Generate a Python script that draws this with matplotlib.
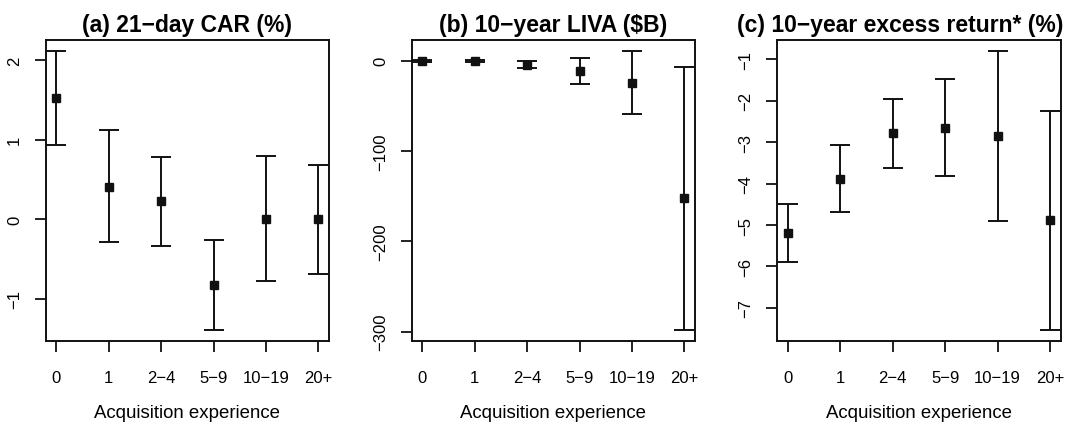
import matplotlib
matplotlib.use("Agg")
import matplotlib.pyplot as plt
import numpy as np

plt.rcParams['font.family'] = ['Liberation Sans', 'DejaVu Sans']

categories = ["0", "1", "2\u22124", "5\u22129", "10\u221219", "20+"]

# (a) 21-day CAR (%)
car_mid = [1.52, 0.41, 0.23, -0.82, 0.0, 0.0]
car_lo = [0.93, -0.29, -0.33, -1.385, -0.78, -0.686]
car_hi = [2.117, 1.117, 0.78, -0.255, 0.79, 0.686]

# (b) 10-year LIVA ($B)
liva_mid = [0.0, 0.0, -4.4, -11.0, -24.3, -152.0]
liva_lo = [-1.0, -1.0, -8.5, -26.0, -59.3, -297.6]
liva_hi = [1.0, 1.0, 0.0, 3.0, 11.0, -7.4]

# (c) 10-year excess return* (%)
ret_mid = [-5.19, -3.88, -2.79, -2.66, -2.855, -4.89]
ret_lo = [-5.88, -4.68, -3.63, -3.81, -4.91, -7.52]
ret_hi = [-4.50, -3.06, -1.95, -1.49, -0.80, -2.245]

# (title, values..., y ticks, axes left, title x in axes coords)
panels = [
    ("(a) 21\u2212day CAR (%)", car_mid, car_lo, car_hi, [-1, 0, 1, 2], 0.0424, 0.5),
    ("(b) 10\u2212year LIVA ($B)", liva_mid, liva_lo, liva_hi, [-300, -200, -100, 0], 0.3816, 0.5),
    ("(c) 10\u2212year excess return* (%)", ret_mid, ret_lo, ret_hi, list(range(-7, 0)), 0.7204, 0.433),
]

fig = plt.figure(figsize=(10.79, 4.27), dpi=100)
x = np.arange(len(categories))

for title, mid, lo, hi, yt, left, tx in panels:
    ax = fig.add_axes([left, 0.1998, 0.2625, 0.7049])
    mid = np.array(mid)
    err = [mid - np.array(lo), np.array(hi) - mid]
    ax.errorbar(x, mid, yerr=err, fmt='s', color='#111111', ms=5.5,
                elinewidth=1.4, capsize=7, capthick=1.4)
    # R style 4% padding
    lo_all, hi_all = min(lo), max(hi)
    r = hi_all - lo_all
    ax.set_ylim(lo_all - 0.04 * r, hi_all + 0.04 * r)
    ax.set_xlim(-0.2, 5.2)
    ax.set_xticks(x)
    ax.set_xticklabels(categories)
    ax.set_yticks(yt)
    ax.set_yticklabels([("%d" % v).replace("-", "\u2212") for v in yt],
                       rotation=90, va='center')
    ax.tick_params(direction='out', length=8, width=1.3, labelsize=12,
                   color='#111111')
    ax.tick_params(axis='x', pad=13)
    ax.tick_params(axis='y', pad=9)
    for s in ax.spines.values():
        s.set_linewidth(1.4)
        s.set_color('#111111')
    t = ax.set_title(title, fontsize=16.5, fontweight='bold', pad=6)
    t.set_x(tx)
    ax.set_xlabel("Acquisition experience", fontsize=13.4, labelpad=14)

fig.savefig("out.png", dpi=100)
